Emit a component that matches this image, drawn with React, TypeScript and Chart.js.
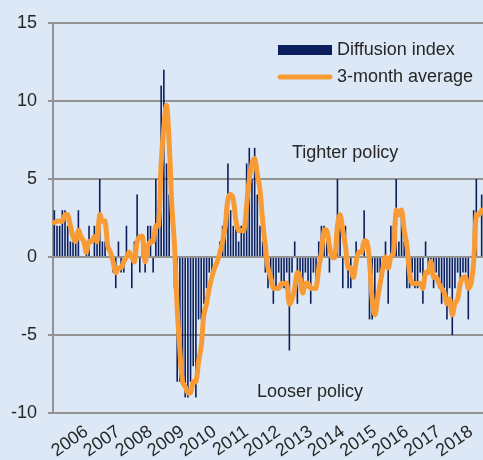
import React, { useEffect, useRef } from 'react';
import { Chart, registerables } from 'chart.js';

Chart.register(...registerables);

const FONT = '"Liberation Sans", Arial, sans-serif';
const TEXT = '#262626';
const NAVY = '#0b1f5e';
const ORANGE = '#f99b35';
const GRID = '#939393';
const BG = '#dce8f6';

const START_YEAR = 2005;
const LABELLED_YEARS = ['2006', '2007', '2008', '2009', '2010', '2011', '2012', '2013', '2014', '2015', '2016', '2017', '2018'];

const diffusionIndex = [
  3, 2, 2, 3, 3, 2, 1, 1, 1, 3,
  0, 0, 1, 2, 0, 2, 1, 5, 1, 1,
  0, 0, -1, -2, 1, -1, -1, 2, 0, -2,
  1, 4, -1, 1, -1, 2, 2, -1, 5, 2,
  11, 12, 6, 4, 0, -2, -8, -8, -8, -9,
  -9, -8, -7, -9, -4, -4, -3, -2, -1, -1,
  0, 0, 1, 2, 3, 6, 3, 2, 2, 1,
  2, 2, 6, 7, 5, 7, 4, 2, 1, -1,
  -2, -1, -3, -2, -1, -2, -2, -1, -6, -1,
  1, -3, -2, -2, -1, -2, -3, -1, -2, 1,
  2, 2, 1, -1, 0, 1, 5, 2, -2, 2,
  -2, -2, 0, 1, 0, 0, 3, 0, -4, -4,
  -3, -1, -1, 0, 1, -3, 2, 2, 5, 1,
  3, 1, -2, -2, -1, -2, -2, -1, -3, 1,
  -1, -1, -2, -1, -2, -3, -2, -4, -2, -5,
  -2, -1, -2, -1, -1, -4, 0, 3, 5, 0,
  4,
];

const threeMonthAverage = [
  2.2, 2.3, 2.3, 2.3, 2.7, 2.7, 2.0, 1.3, 1.0, 1.7,
  1.3, 1.0, 0.3, 1.0, 1.0, 1.3, 1.0, 2.7, 2.3, 2.3,
  0.7, 0.3, -0.3, -1.0, -0.7, -0.7, -0.3, 0.0, 0.3, 0.0,
  -0.3, 1.0, 1.3, 1.3, -0.3, 0.7, 1.0, 1.0, 2.0, 2.0,
  6.0, 8.3, 9.7, 7.3, 3.3, 0.7, -3.3, -6.0, -8.0, -8.3,
  -8.7, -8.7, -8.0, -8.0, -6.7, -5.7, -3.7, -3.0, -2.0, -1.3,
  -0.7, -0.3, 0.3, 1.0, 2.0, 3.7, 4.0, 3.7, 2.3, 1.7,
  1.7, 1.7, 3.3, 5.0, 6.0, 6.3, 5.3, 4.3, 2.3, 0.7,
  -0.7, -1.3, -2.0, -2.0, -2.0, -1.7, -1.7, -1.7, -3.0, -2.7,
  -2.0, -1.0, -1.3, -2.3, -1.7, -1.7, -2.0, -2.0, -2.0, -0.7,
  0.3, 1.7, 1.7, 0.7, 0.0, 0.0, 2.0, 2.7, 1.7, 0.7,
  -0.7, -0.7, -1.3, -0.3, 0.3, 0.3, 1.0, 1.0, -0.3, -2.7,
  -3.7, -2.7, -1.7, -0.7, 0.0, -0.7, 0.0, 0.3, 3.0, 2.7,
  3.0, 1.7, 0.7, -1.0, -1.7, -1.7, -1.7, -1.7, -2.0, -1.0,
  -1.0, -0.3, -1.3, -1.3, -1.7, -2.0, -2.3, -3.0, -2.7, -3.7,
  -3.0, -2.7, -1.7, -1.3, -1.3, -2.0, -1.7, -0.3, 2.7, 2.7,
  3.0,
];

const Y_TICKS = [-10, -5, 0, 5, 10, 15];

const categories: string[] = diffusionIndex.map((_, i) => {
  const y = START_YEAR + Math.floor(i / 12);
  const m = (i % 12) + 1;
  return `${y}-${m < 10 ? '0' + m : m}`;
});

const annotations = [
  { text: 'Tighter policy', x: 292, y: 153 },
  { text: 'Looser policy', x: 257, y: 392 },
];

const overlayPlugin = {
  id: 'overlay',
  afterDraw(chart: any) {
    const ctx = chart.ctx as CanvasRenderingContext2D;
    ctx.save();
    ctx.font = `18px ${FONT}`;
    ctx.textBaseline = 'middle';
    ctx.textAlign = 'left';
    const ds = chart.data.datasets;
    const barDs = ds.find((d: any) => d.type === 'bar');
    const lineDs = ds.find((d: any) => d.type === 'line');
    ctx.fillStyle = NAVY;
    ctx.fillRect(278, 45, 54, 10);
    ctx.strokeStyle = ORANGE;
    ctx.lineWidth = 5;
    ctx.lineCap = 'round';
    ctx.beginPath();
    ctx.moveTo(280, 77);
    ctx.lineTo(330, 77);
    ctx.stroke();
    ctx.fillStyle = TEXT;
    ctx.fillText(barDs.label, 337, 50);
    ctx.fillText(lineDs.label, 337, 77);
    for (const a of annotations) ctx.fillText(a.text, a.x, a.y);
    ctx.restore();
  },
};

export default function App() {
  const ref = useRef<HTMLCanvasElement | null>(null);
  useEffect(() => {
    if (!ref.current) return;
    const chart = new Chart(ref.current, {
      type: 'bar',
      data: {
        labels: categories,
        datasets: [
          {
            type: 'line',
            label: '3-month average',
            data: threeMonthAverage,
            borderColor: ORANGE,
            backgroundColor: ORANGE,
            borderWidth: 5,
            pointRadius: 0,
            tension: 0.4,
            borderCapStyle: 'round',
            borderJoinStyle: 'round',
            order: 0,
          } as any,
          {
            type: 'bar',
            label: 'Diffusion index',
            data: diffusionIndex,
            backgroundColor: NAVY,
            borderWidth: 0,
            categoryPercentage: 1,
            barPercentage: 0.6,
            order: 1,
          } as any,
        ],
      },
      options: {
        animation: false,
        responsive: true,
        maintainAspectRatio: false,
        layout: { padding: { top: 23, right: 0, bottom: 0, left: 0 } },
        plugins: {
          legend: { display: false },
          tooltip: { enabled: false },
        },
        scales: {
          x: {
            grid: { display: false, drawTicks: false },
            border: { display: false },
            ticks: {
              autoSkip: false,
              minRotation: 35,
              maxRotation: 35,
              padding: 8,
              color: TEXT,
              font: { family: FONT, size: 18 },
              callback: (_v: any, i: number) => {
                if (i % 12 !== 0) return '';
                const y = String(START_YEAR + i / 12);
                return LABELLED_YEARS.includes(y) ? y : '';
              },
            },
            afterFit: (s: any) => {
              s.height = 47;
              s.paddingLeft = 0;
              s.paddingRight = 0;
            },
          },
          y: {
            min: -10,
            max: 15,
            afterBuildTicks: (s: any) => {
              s.ticks = Y_TICKS.map((v) => ({ value: v }));
            },
            grid: { color: GRID, lineWidth: 2, tickLength: 5, drawTicks: true },
            border: { display: true, color: GRID, width: 2 },
            ticks: {
              padding: 11,
              color: TEXT,
              font: { family: FONT, size: 18 },
            },
            afterFit: (s: any) => {
              s.width = 53;
            },
          },
        },
      },
      plugins: [overlayPlugin],
    });
    return () => chart.destroy();
  }, []);
  return (
    <div style={{ position: 'absolute', left: 0, top: 0, width: 483, height: 460, background: BG }}>
      <canvas ref={ref} />
    </div>
  );
}
